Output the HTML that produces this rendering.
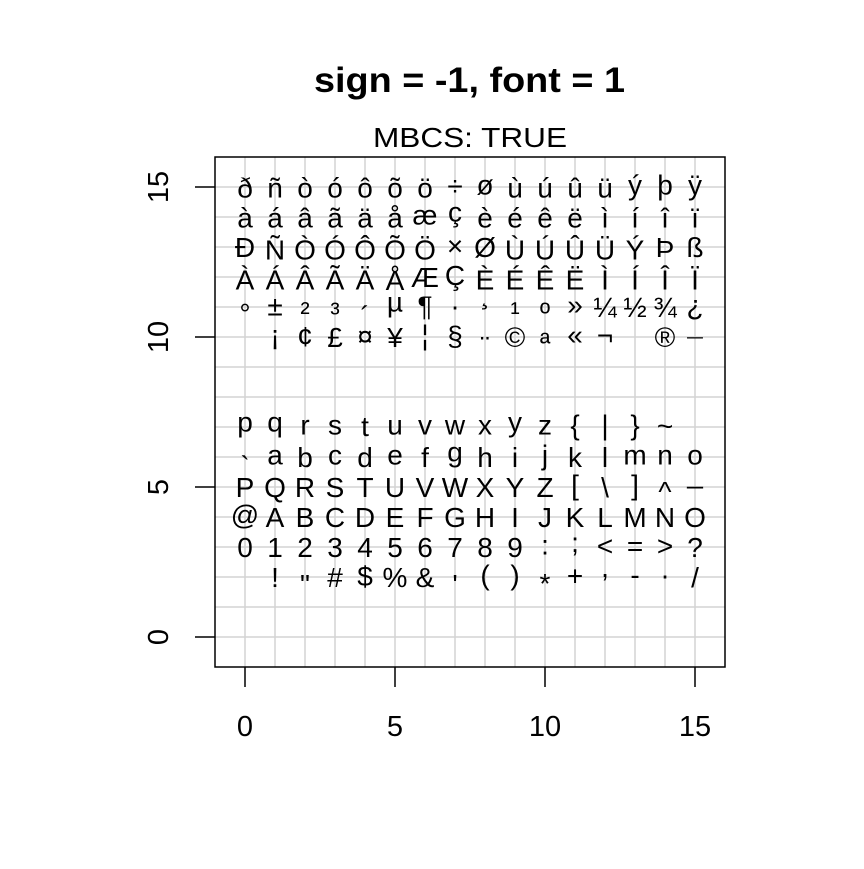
<!DOCTYPE html>
<html><head><meta charset="utf-8"><style>
html,body{margin:0;padding:0;background:#fff}
svg text{font-family:"Liberation Sans",Arial,sans-serif;fill:#000}
</style></head><body>
<svg width="864" height="864" viewBox="0 0 864 864" xmlns="http://www.w3.org/2000/svg">
<g stroke="#d3d3d3" stroke-width="1.5">
<line x1="245" y1="157" x2="245" y2="667"/><line x1="275" y1="157" x2="275" y2="667"/><line x1="305" y1="157" x2="305" y2="667"/><line x1="335" y1="157" x2="335" y2="667"/><line x1="365" y1="157" x2="365" y2="667"/><line x1="395" y1="157" x2="395" y2="667"/><line x1="425" y1="157" x2="425" y2="667"/><line x1="455" y1="157" x2="455" y2="667"/><line x1="485" y1="157" x2="485" y2="667"/><line x1="515" y1="157" x2="515" y2="667"/><line x1="545" y1="157" x2="545" y2="667"/><line x1="575" y1="157" x2="575" y2="667"/><line x1="605" y1="157" x2="605" y2="667"/><line x1="635" y1="157" x2="635" y2="667"/><line x1="665" y1="157" x2="665" y2="667"/><line x1="695" y1="157" x2="695" y2="667"/>
<line x1="215" y1="187" x2="725" y2="187"/><line x1="215" y1="217" x2="725" y2="217"/><line x1="215" y1="247" x2="725" y2="247"/><line x1="215" y1="277" x2="725" y2="277"/><line x1="215" y1="307" x2="725" y2="307"/><line x1="215" y1="337" x2="725" y2="337"/><line x1="215" y1="367" x2="725" y2="367"/><line x1="215" y1="397" x2="725" y2="397"/><line x1="215" y1="427" x2="725" y2="427"/><line x1="215" y1="457" x2="725" y2="457"/><line x1="215" y1="487" x2="725" y2="487"/><line x1="215" y1="517" x2="725" y2="517"/><line x1="215" y1="547" x2="725" y2="547"/><line x1="215" y1="577" x2="725" y2="577"/><line x1="215" y1="607" x2="725" y2="607"/><line x1="215" y1="637" x2="725" y2="637"/>
</g>
<rect x="215" y="157" width="510" height="510" fill="none" stroke="#000" stroke-width="1.5"/>
<g stroke="#000" stroke-width="1.5">
<line x1="245" y1="667" x2="245" y2="687"/><line x1="395" y1="667" x2="395" y2="687"/><line x1="545" y1="667" x2="545" y2="687"/><line x1="695" y1="667" x2="695" y2="687"/>
<line x1="215" y1="637" x2="195" y2="637"/><line x1="215" y1="487" x2="195" y2="487"/><line x1="215" y1="337" x2="195" y2="337"/><line x1="215" y1="187" x2="195" y2="187"/>
</g>
<g font-size="29" text-anchor="middle">
<text x="245" y="736">0</text><text x="395" y="736">5</text><text x="545" y="736">10</text><text x="695" y="736">15</text>
<text transform="translate(168,637) rotate(-90)">0</text><text transform="translate(168,487) rotate(-90)">5</text><text transform="translate(168,337) rotate(-90)">10</text><text transform="translate(168,187) rotate(-90)">15</text>
</g>
<text x="314" y="92" font-size="35" font-weight="bold" textLength="311" lengthAdjust="spacingAndGlyphs">sign = -1, font = 1</text>
<text x="373" y="147" font-size="28" textLength="194" lengthAdjust="spacingAndGlyphs">MBCS: TRUE</text>
<g font-size="28" text-anchor="middle">
<text x="245" y="197.4">ð</text><text x="275" y="197.4">ñ</text><text x="305" y="197.4">ò</text><text x="335" y="197.4">ó</text><text x="365" y="197.4">ô</text><text x="395" y="197.4">õ</text><text x="425" y="197.4">ö</text><text x="455" y="195.4">÷</text><text x="485" y="194.3">ø</text><text x="515" y="197.4">ù</text><text x="545" y="197.4">ú</text><text x="575" y="197.4">û</text><text x="605" y="197.4">ü</text><text x="635" y="194.6">ý</text><text x="665" y="194.3">þ</text><text x="695" y="194.6">ÿ</text>

<text x="245" y="227.4">à</text><text x="275" y="227.4">á</text><text x="305" y="227.4">â</text><text x="335" y="227.4">ã</text><text x="365" y="227.4">ä</text><text x="395" y="227.4">å</text><text x="425" y="224.3">æ</text><text x="455" y="221.5">ç</text><text x="485" y="227.4">è</text><text x="515" y="227.4">é</text><text x="545" y="227.4">ê</text><text x="575" y="227.4">ë</text><text x="605" y="227.4">ì</text><text x="635" y="227.4">í</text><text x="665" y="227.4">î</text><text x="695" y="227.4">ï</text>

<text x="245" y="257">Ð</text><text x="275" y="259.6">Ñ</text><text x="305" y="259.6">Ò</text><text x="335" y="259.6">Ó</text><text x="365" y="259.6">Ô</text><text x="395" y="259.6">Õ</text><text x="425" y="259.6">Ö</text><text x="455" y="255.4">×</text><text x="485" y="257">Ø</text><text x="515" y="259.6">Ù</text><text x="545" y="259.6">Ú</text><text x="575" y="259.6">Û</text><text x="605" y="259.6">Ü</text><text x="635" y="259.6">Ý</text><text x="665" y="257">Þ</text><text x="695" y="257">ß</text>

<text x="245" y="289.6">À</text><text x="275" y="289.6">Á</text><text x="305" y="289.6">Â</text><text x="335" y="289.6">Ã</text><text x="365" y="289.6">Ä</text><text x="395" y="290.2">Å</text><text x="425" y="287">Æ</text><text x="455" y="285">Ç</text><text x="485" y="289.6">È</text><text x="515" y="289.6">É</text><text x="545" y="289.6">Ê</text><text x="575" y="289.6">Ë</text><text x="605" y="289.6">Ì</text><text x="635" y="289.6">Í</text><text x="665" y="289.6">Î</text><text x="695" y="289.6">Ï</text>

<text x="245" y="323.2">°</text><text x="275" y="315.4">±</text><text x="305" y="321.8">²</text><text x="335" y="321.8">³</text><text x="365" y="325.8">´</text><text x="395" y="311.5">µ</text><text x="425" y="315.4">¶</text><text x="455" y="315.4">·</text><text x="485" y="303.6">¸</text><text x="515" y="321.8">¹</text><text x="545" y="322.4">º</text><text x="575" y="314.6">»</text><text x="605" y="316.8">¼</text><text x="635" y="316.8">½</text><text x="665" y="316.8">¾</text><text x="695" y="314.3">¿</text>

<text x="275" y="344.3">¡</text><text x="305" y="346.2">¢</text><text x="335" y="346.8">£</text><text x="365" y="345.4">¤</text><text x="395" y="346.8">¥</text><text x="425" y="344.6">¦</text><text x="455" y="345.4">§</text><text x="485" y="356">¨</text><text x="515" y="346.8">©</text><text x="545" y="352.4">ª</text><text x="575" y="344.6">«</text><text x="605" y="344.8">¬</text><text x="665" y="346.8">®</text><text x="695" y="358.6">¯</text>

<text x="245" y="431.3">p</text><text x="275" y="431.3">q</text><text x="305" y="434.3">r</text><text x="335" y="434.3">s</text><text x="365" y="436.2">t</text><text x="395" y="434.3">u</text><text x="425" y="434.3">v</text><text x="455" y="434.3">w</text><text x="485" y="434.3">x</text><text x="515" y="431.3">y</text><text x="545" y="434.3">z</text><text x="575" y="434.3">{</text><text x="605" y="434.3">|</text><text x="635" y="434.3">}</text><text x="665" y="435.4">~</text>

<text x="245" y="475.8">`</text><text x="275" y="464.3">a</text><text x="305" y="467.2">b</text><text x="335" y="464.3">c</text><text x="365" y="467.2">d</text><text x="395" y="464.3">e</text><text x="425" y="467.2">f</text><text x="455" y="461.3">g</text><text x="485" y="467.2">h</text><text x="515" y="467.2">i</text><text x="545" y="464.3">j</text><text x="575" y="467.2">k</text><text x="605" y="467.2">l</text><text x="635" y="464.3">m</text><text x="665" y="464.3">n</text><text x="695" y="464.3">o</text>

<text x="245" y="497">P</text><text x="275" y="497">Q</text><text x="305" y="497">R</text><text x="335" y="497">S</text><text x="365" y="497">T</text><text x="395" y="497">U</text><text x="425" y="497">V</text><text x="455" y="497">W</text><text x="485" y="497">X</text><text x="515" y="497">Y</text><text x="545" y="497">Z</text><text x="575" y="494.3">[</text><text x="605" y="497">\</text><text x="635" y="494.3">]</text><text x="665" y="501">^</text><text x="695" y="482.8">_</text>

<text x="245" y="524.6">@</text><text x="275" y="527">A</text><text x="305" y="527">B</text><text x="335" y="527">C</text><text x="365" y="527">D</text><text x="395" y="527">E</text><text x="425" y="527">F</text><text x="455" y="527">G</text><text x="485" y="527">H</text><text x="515" y="527">I</text><text x="545" y="527">J</text><text x="575" y="527">K</text><text x="605" y="527">L</text><text x="635" y="527">M</text><text x="665" y="527">N</text><text x="695" y="527">O</text>

<text x="245" y="557">0</text><text x="275" y="557">1</text><text x="305" y="557">2</text><text x="335" y="557">3</text><text x="365" y="557">4</text><text x="395" y="557">5</text><text x="425" y="557">6</text><text x="455" y="557">7</text><text x="485" y="557">8</text><text x="515" y="557">9</text><text x="545" y="554.3">:</text><text x="575" y="552">;</text><text x="605" y="555.4">&lt;</text><text x="635" y="555.4">=</text><text x="665" y="555.4">&gt;</text><text x="695" y="557">?</text>

<text x="275" y="587">!</text><text x="305" y="593.8">"</text><text x="335" y="587">#</text><text x="365" y="586.2">$</text><text x="395" y="587">%</text><text x="425" y="587">&amp;</text><text x="455" y="593.8">'</text><text x="485" y="584.3">(</text><text x="515" y="584.3">)</text><text x="545" y="593.2">*</text><text x="575" y="585.4">+</text><text x="605" y="577">,</text><text x="635" y="584.6">-</text><text x="665" y="578.4">.</text><text x="695" y="587">/</text>
</g>
</svg>
</body></html>
